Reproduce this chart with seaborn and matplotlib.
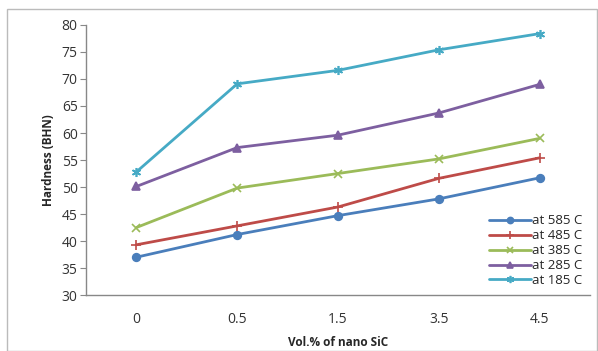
import numpy as np
import pandas as pd
import matplotlib.pyplot as plt
import seaborn as sns
from matplotlib.patches import Rectangle

# values
vol_pct = ['0', '0.5', '1.5', '3.5', '4.5']
temps = ['at 585 C', 'at 485 C', 'at 385 C', 'at 285 C', 'at 185 C']
h_585 = [37.0, 41.2, 44.7, 47.8, 51.7]
h_485 = [39.3, 42.8, 46.3, 51.6, 55.4]
h_385 = [42.5, 49.8, 52.5, 55.2, 59.0]
h_285 = [50.1, 57.3, 59.6, 63.7, 69.0]
h_185 = [52.8, 69.1, 71.6, 75.4, 78.4]

series = [h_585, h_485, h_385, h_285, h_185]
colors = ['#4A7EBB', '#BE4B48', '#9BBB59', '#7D5FA0', '#46AAC5']
markers = ['o', '+', 'x', '^', (6, 2, 0)]
msizes = [5.5, 7, 6, 6, 6.5]

df = pd.DataFrame({
    'vol': vol_pct * len(temps),
    'hardness': sum(series, []),
    'temp': [t for t in temps for _ in vol_pct],
})

sns.set_style('white')
plt.rcParams['font.family'] = ['Open Sans', 'DejaVu Sans']

fig = plt.figure(figsize=(5.98, 3.51), dpi=100)
ax = fig.add_axes([0.1438, 0.1595, 0.8428, 0.7693])

for t, c, m, ms in zip(temps, colors, markers, msizes):
    sub = df[df['temp'] == t]
    sns.lineplot(x='vol', y='hardness', data=sub, ax=ax, color=c, marker=m,
                 markersize=ms, markeredgecolor=c, markeredgewidth=1.2,
                 linewidth=2.0, label=t, sort=False)

ax.set_ylim(30, 80)
ax.set_yticks(np.arange(30, 81, 5))
ax.set_xlim(-0.5, len(vol_pct) - 0.5)

for s in ['top', 'right']:
    ax.spines[s].set_visible(False)
for s in ['left', 'bottom']:
    ax.spines[s].set_color('#888888')
    ax.spines[s].set_linewidth(1.0)
ax.tick_params(axis='y', which='both', left=True, length=4, color='#888888',
               labelsize=10, labelcolor='#333333', pad=2)
ax.tick_params(axis='x', bottom=False, labelsize=10, labelcolor='#333333', pad=9)

ax.set_ylabel('Hardness (BHN)', fontsize=8.5, fontweight='bold', labelpad=5)
ax.set_xlabel('Vol.% of nano SiC', fontsize=8.5, fontweight='bold', labelpad=6)

ax.legend(loc='lower right', frameon=False, fontsize=9.5, handlelength=3.2,
          handletextpad=0.05, labelspacing=0.15, borderaxespad=0.2,
          bbox_to_anchor=(1.0, 0.0), markerscale=0.8)

# chart area border
fig.patches.append(Rectangle((0.012, 0.0), 0.986, 0.975, transform=fig.transFigure,
                             fill=False, edgecolor='#BBBBBB', linewidth=1.0))

fig.savefig('out.png', dpi=100)
